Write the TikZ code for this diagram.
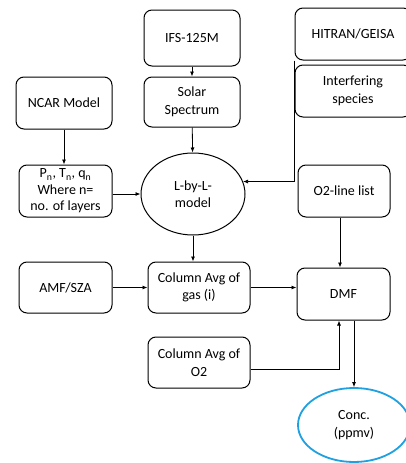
\documentclass[tikz,border=0pt]{standalone}
\usepackage{fontspec}
\setmainfont{Carlito}
\usepackage{xcolor}
\definecolor{concblue}{RGB}{30,160,225}
\usepackage{tikz}
\usetikzlibrary{positioning,arrows.meta,shapes.geometric,calc}
\tikzset{
	box/.style={draw, line width=1pt, rounded corners=8pt, align=center, inner sep=1pt,
		font=\fontsize{14}{17.5}\selectfont},
	oval/.style={draw, ellipse, line width=1pt, align=center, inner sep=0pt,
		font=\fontsize{14}{17.5}\selectfont},
	flow/.style={-{Latex[length=5pt,width=4pt]}, line width=.8pt}
}

\begin{document}
\begin{tikzpicture}[x=1pt,y=-1pt]
			\useasboundingbox (0,0) rectangle (406,463);
			\clip (0,0) rectangle (406,463);
			
			%%% top row
			\node[box, minimum width=96pt, minimum height=56pt] (ifs) at (192,38) {IFS-125M};
			\node[box, minimum width=96pt, minimum height=50pt] (solar) at (192,102) {Solar\\Spectrum};
			\node[box, minimum width=96pt, minimum height=52pt] (ncar) at (64,103) {NCAR Model};
			\node[box, minimum width=116pt, minimum height=52pt] (hitran) at (353,34) {HITRAN/GEISA};
			\node[box, minimum width=116pt, minimum height=52pt] (interf) at (353,91) {Interfering\\species};
			
			%%% middle row
			\node[box, minimum width=93pt, minimum height=52pt, font=\fontsize{14}{16.5}\selectfont] (layers) at (65.5,191)
			{P\textsubscript{n}, T\textsubscript{n}, q\textsubscript{n}\\Where n=\\no. of layers};
			\node[oval, minimum width=104pt, minimum height=82pt] (lbl) at (193,194) {L-by-L-\\model};
			\node[box, minimum width=92pt, minimum height=52pt] (o2list) at (344,191) {O2-line list};
			
			%%% lower rows
			\node[box, minimum width=93pt, minimum height=51pt] (amf) at (65.5,287.5) {AMF/SZA};
			\node[box, minimum width=102pt, minimum height=51pt] (colgas) at (199,287.5) {Column Avg of\\gas (i)};
			\node[box, minimum width=93pt, minimum height=52pt] (dmf) at (343.5,294) {DMF};
			\node[box, minimum width=102pt, minimum height=51pt] (colo2) at (199,362.5) {Column Avg of\\O2};
			\node[oval, draw=concblue, line width=1.8pt, minimum width=112pt, minimum height=74pt] (conc) at (354,425) {Conc.\\(ppmv)};
			
			%%% connectors
			\draw[flow] (ifs) -- (solar);
			\draw[flow] (solar) -- (lbl);
			\draw[flow] (ncar.south) -- (ncar.south |- layers.north);
			\draw[flow] (layers.east |- lbl.west) -- (lbl.west);
			\draw[flow] (hitran.south west) |- (lbl.14);
			\draw[flow] (lbl.south) -- (lbl.south |- colgas.north);
			\draw[flow] (amf) -- (colgas);
			\draw[flow] (colgas.east) -- (colgas.east -| dmf.west);
			\draw[flow] ([xshift=-4pt]o2list.south) -- ([xshift=-4pt]o2list.south |- dmf.north);
			\draw[flow] ([yshift=-7pt]colo2.east) -| ([xshift=-4.5pt]dmf.south);
			\draw[flow] (conc.north |- dmf.south) -- (conc.north);
			
		\end{tikzpicture}
\end{document}
